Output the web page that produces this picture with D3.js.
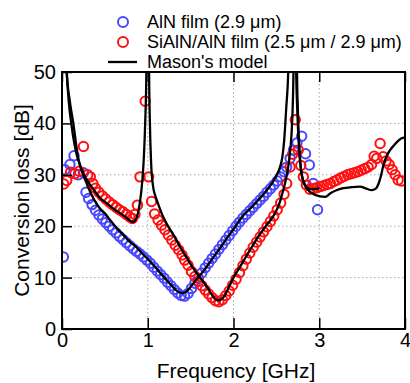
<!DOCTYPE html>
<html>
<head>
<meta charset="utf-8">
<script src="https://cdn.jsdelivr.net/npm/d3@7"></script>
<style>
  body { margin: 0; background: #fff; }
  svg text { font-family: 'Liberation Sans', Arial, sans-serif; fill: #000; }
</style>
</head>
<body>
<svg id="chart" width="410" height="383"></svg>
<script>
// AlN film (2.9 um) measured points
const alnFreq = [0.016, 0.035, 0.093, 0.14, 0.19, 0.25,
  0.28, 0.31, 0.35, 0.39, 0.43, 0.47, 0.51, 0.55, 0.59, 0.63, 0.67, 0.71, 0.75, 0.79,
  0.83, 0.87, 0.91, 0.95, 0.99, 1.03, 1.07, 1.11, 1.15, 1.19, 1.23, 1.27, 1.31, 1.35,
  1.39, 1.43, 1.47, 1.51, 1.55, 1.59, 1.63, 1.67, 1.71, 1.75, 1.79, 1.83, 1.87, 1.91,
  1.95, 1.99, 2.03, 2.07, 2.11, 2.15, 2.19, 2.23, 2.27, 2.31, 2.35, 2.39, 2.43, 2.47,
  2.51, 2.55, 2.59, 2.62, 2.66, 2.70, 2.74, 2.795, 2.84, 2.885, 2.93, 2.98];
const alnLoss = [14.0, 31.0, 32.0, 33.7, 30.0, 30.4,
  26.6, 25.4, 24.2, 23.1, 22.2, 21.4, 20.7, 20.0, 19.3, 18.7, 18.0, 17.4, 16.8, 16.2,
  15.6, 15.1, 14.6, 14.0, 13.4, 12.8, 12.0, 11.3, 10.6, 9.9, 9.1, 8.4, 7.7, 7.0,
  6.5, 6.4, 6.9, 7.9, 8.9, 9.9, 10.9, 11.9, 12.8, 13.7, 14.6, 15.5, 16.4, 17.3,
  18.2, 19.1, 20.0, 20.8, 21.6, 22.3, 23.0, 23.7, 24.4, 25.1, 25.8, 26.6, 27.3, 28.0,
  28.8, 29.6, 30.6, 31.5, 33.2, 34.8, 36.2, 37.5, 34.1, 31.9, 28.3, 23.2];

// SiAlN/AlN film (2.5 um / 2.9 um) measured points
const sialnFreq = [0.02, 0.055, 0.10, 0.15, 0.20, 0.25, 0.30, 0.33, 0.36, 0.39,
  0.43, 0.47, 0.51, 0.55, 0.59, 0.63, 0.67, 0.71, 0.75, 0.79, 0.82, 0.85, 0.88, 0.91,
  0.97, 1.01, 1.045, 1.08, 1.12, 1.16, 1.20, 1.24, 1.28, 1.32, 1.36, 1.40, 1.43, 1.47,
  1.51, 1.55, 1.59, 1.63, 1.67, 1.71, 1.75, 1.79, 1.83, 1.87, 1.91, 1.95, 1.99, 2.03,
  2.07, 2.11, 2.15, 2.19, 2.23, 2.27, 2.31, 2.35, 2.39, 2.43, 2.47, 2.51, 2.55, 2.59,
  2.62, 2.66, 2.69, 2.72, 2.755, 2.785, 2.815, 2.85, 2.89, 2.93, 2.97, 3.01, 3.05,
  3.09, 3.13, 3.17, 3.21, 3.25, 3.29, 3.33, 3.37, 3.41, 3.45, 3.49, 3.53, 3.57, 3.61,
  3.64, 3.67, 3.71, 3.745, 3.78, 3.815, 3.85, 3.885, 3.92, 3.96];
const sialnLoss = [28.2, 28.9, 30.5, 30.2, 30.7, 35.5, 30.0, 29.6, 28.3, 27.4,
  26.6, 25.9, 25.3, 24.7, 24.2, 23.7, 23.2, 22.8, 22.3, 21.8, 21.5, 22.3, 24.1, 29.6,
  44.3, 29.6, 24.8, 22.4, 21.2, 20.2, 19.3, 18.3, 17.3, 16.3, 15.4, 14.4, 13.4, 12.4,
  11.2, 10.2, 9.3, 8.4, 7.6, 6.8, 6.1, 5.5, 5.3, 5.7, 6.5, 7.4, 8.5, 9.7,
  11.0, 12.3, 13.6, 14.8, 15.9, 16.9, 17.9, 18.9, 19.9, 20.9, 22.0, 23.2, 24.5, 26.2,
  28.3, 31.5, 34.0, 40.7, 34.8, 31.8, 29.6, 28.0, 27.2, 27.3, 27.5, 27.7, 27.9,
  28.1, 28.3, 28.7, 29.0, 29.4, 29.7, 30.0, 30.2, 30.4, 30.6, 30.9, 31.2, 31.5, 32.0,
  33.6, 33.2, 36.1, 33.5, 32.7, 32.0, 31.0, 30.0, 29.0, 28.8];

// Mason's model curves
const masonAlnFreq = [0.04, 0.055, 0.08, 0.113, 0.17, 0.21, 0.27, 0.31, 0.37, 0.44, 0.5,
  0.57, 0.64, 0.7, 0.77, 0.85, 0.93, 1.03, 1.12, 1.2, 1.27, 1.32, 1.37, 1.41, 1.45,
  1.5, 1.57, 1.65, 1.75, 1.85, 1.95, 2.02, 2.1, 2.2, 2.29, 2.37, 2.445, 2.5, 2.54,
  2.57, 2.59, 2.615, 2.64, 2.69, 2.73, 2.745, 2.765, 2.79, 2.83, 2.9, 2.96, 3.0];
const masonAlnLoss = [56, 50, 44, 39.4, 34, 31.8, 29, 27.4, 25.3, 23.5, 22.5,
  21, 19.6, 18.6, 17.3, 16.2, 14.8, 13.1, 11.4, 9.9, 8.6, 7.7, 7.1, 7.0, 7.3,
  8.2, 9.7, 11.3, 13.6, 15.9, 18.3, 19.9, 21.8, 23.5, 25.1, 26.6, 28.3, 29.8, 31.4,
  33.5, 36.5, 43, 51, 150, 51, 42, 35, 30.5, 28.2, 27.2, 27.2, 27.4];

const masonSialnFreq = [0.04, 0.055, 0.09, 0.132, 0.19, 0.24, 0.29, 0.36, 0.443, 0.52,
  0.6, 0.68, 0.755, 0.8, 0.83, 0.86, 0.885, 0.91, 0.935, 0.955, 0.97, 0.985, 1.0,
  1.015, 1.025, 1.04, 1.06, 1.09, 1.12, 1.17, 1.22, 1.3, 1.38, 1.45, 1.52, 1.61, 1.69,
  1.75, 1.79, 1.82, 1.86, 1.9, 1.95, 2.0, 2.076, 2.15, 2.22, 2.29, 2.38, 2.484, 2.53,
  2.58, 2.62, 2.65, 2.675, 2.69, 2.70, 2.72, 2.74, 2.75, 2.765, 2.785, 2.81, 2.86,
  2.95, 3.07, 3.13, 3.2, 3.28, 3.38, 3.475, 3.55, 3.61, 3.66, 3.69, 3.72, 3.75, 3.79,
  3.83, 3.87, 3.92, 3.96, 4.0];
const masonSialnLoss = [56, 50, 44.5, 40, 33.2, 30.6, 29, 27.3, 25.5, 24.5,
  23.4, 22.5, 21.6, 21.0, 20.8, 21.3, 22.5, 24.8, 28.5, 33.5, 40, 51, 150,
  51, 40, 32, 28, 25.8, 24.4, 22.2, 20.5, 18.3, 15.9, 14, 12.1, 10, 8.2,
  6.6, 5.8, 5.6, 5.8, 6.6, 8.3, 10, 12.1, 14.2, 16.1, 18, 20.1, 22.5, 24.2,
  27, 29.8, 33, 37.5, 43, 51, 150, 51, 43, 36, 31.5, 29, 27.2,
  26.1, 25.7, 26.4, 27, 27.4, 27.6, 27.7, 27.3, 27.0, 27.3, 28.2, 29.8, 32, 33.8,
  34.9, 35.7, 36.6, 37.1, 37.3];

const xTicks = [0, 1, 2, 3, 4];
const yTicks = [0, 10, 20, 30, 40, 50];

const BLUE = '#4747ff';
const RED = '#ff1010';

const margin = {top: 72, right: 5, bottom: 54, left: 62},
  WIDTH = 410, HEIGHT = 383,
  width = WIDTH - margin.left - margin.right,
  height = HEIGHT - margin.top - margin.bottom;

const svg = d3.select('#chart')
  .append('g')
  .attr('transform', `translate(${margin.left},${margin.top})`);

const x = d3.scaleLinear().domain([0, 4]).range([0, width]);
const y = d3.scaleLinear().domain([0, 50]).range([height, 0]);

svg.append('clipPath').attr('id', 'plot-clip')
  .append('rect').attr('width', width).attr('height', height);

// dotted grid
svg.append('g')
  .selectAll('line')
  .data(yTicks.slice(1, -1))
  .join('line')
  .attr('x1', 0).attr('x2', width)
  .attr('y1', d => y(d)).attr('y2', d => y(d))
  .attr('stroke', '#aaa').attr('stroke-width', 1).attr('stroke-dasharray', '1.5,2.5');
svg.append('g')
  .selectAll('line')
  .data(xTicks.slice(1, -1))
  .join('line')
  .attr('y1', 0).attr('y2', height)
  .attr('x1', d => x(d)).attr('x2', d => x(d))
  .attr('stroke', '#aaa').attr('stroke-width', 1).attr('stroke-dasharray', '1.5,2.5');

const plot = svg.append('g').attr('clip-path', 'url(#plot-clip)');

plot.append('g')
  .selectAll('circle')
  .data(d3.zip(alnFreq, alnLoss))
  .join('circle')
  .attr('cx', d => x(d[0]))
  .attr('cy', d => y(d[1]))
  .attr('r', 4.7)
  .attr('fill', 'none')
  .attr('stroke', BLUE)
  .attr('stroke-width', 2);

plot.append('g')
  .selectAll('circle')
  .data(d3.zip(sialnFreq, sialnLoss))
  .join('circle')
  .attr('cx', d => x(d[0]))
  .attr('cy', d => y(d[1]))
  .attr('r', 4.7)
  .attr('fill', 'none')
  .attr('stroke', RED)
  .attr('stroke-width', 2);

const line = d3.line().x(d => x(d[0])).y(d => y(d[1])).curve(d3.curveMonotoneX);
[d3.zip(masonAlnFreq, masonAlnLoss), d3.zip(masonSialnFreq, masonSialnLoss)].forEach(pts => {
  plot.append('path')
    .datum(pts)
    .attr('d', line)
    .attr('fill', 'none')
    .attr('stroke', '#000')
    .attr('stroke-width', 2.3);
});

// axes, ticks point inward
const xAxis = svg.append('g')
  .attr('transform', `translate(0,${height})`)
  .call(d3.axisBottom(x).tickValues(xTicks).tickFormat(d3.format('d'))
    .tickSizeInner(-11).tickSizeOuter(0).tickPadding(4));
svg.append('g')
  .call(d3.axisTop(x).tickValues(xTicks).tickFormat('')
    .tickSizeInner(-10).tickSizeOuter(0));
const yAxis = svg.append('g')
  .call(d3.axisLeft(y).tickValues(yTicks).tickFormat(d3.format('d'))
    .tickSizeInner(-10).tickSizeOuter(0).tickPadding(6));

svg.selectAll('.domain').remove();
svg.selectAll('.tick line').attr('stroke', '#000').attr('stroke-width', 1.5);
xAxis.selectAll('text').style('font-size', '20px');
yAxis.selectAll('text').style('font-size', '20px');

svg.append('rect')
  .attr('width', width).attr('height', height)
  .attr('fill', 'none').attr('stroke', '#000').attr('stroke-width', 2);

svg.append('text')
  .attr('x', 174).attr('y', height + 49)
  .style('text-anchor', 'middle')
  .style('font-size', '21px')
  .text('Frequency [GHz]');

svg.append('text')
  .attr('transform', `translate(-33,${height / 2}) rotate(-90)`)
  .style('text-anchor', 'middle')
  .style('font-size', '21px')
  .text('Conversion loss [dB]');

// legend
const legend = d3.select('#chart').append('g');
const legendRows = [
  {label: 'AlN film (2.9 μm)', color: BLUE, y: 22},
  {label: 'SiAlN/AlN film (2.5 μm / 2.9 μm)', color: RED, y: 42},
  {label: "Mason's model", color: '#000', y: 62, line: true}
];
legendRows.forEach(r => {
  if (r.line) {
    legend.append('line')
      .attr('x1', 108).attr('x2', 137).attr('y1', r.y).attr('y2', r.y)
      .attr('stroke', '#000').attr('stroke-width', 2.3);
  } else {
    legend.append('circle')
      .attr('cx', 123).attr('cy', r.y).attr('r', 5)
      .attr('fill', 'none').attr('stroke', r.color).attr('stroke-width', 2);
  }
  legend.append('text')
    .attr('x', 147).attr('y', r.y + 6)
    .style('font-size', '18px')
    .text(r.label);
});
</script>
</body>
</html>
